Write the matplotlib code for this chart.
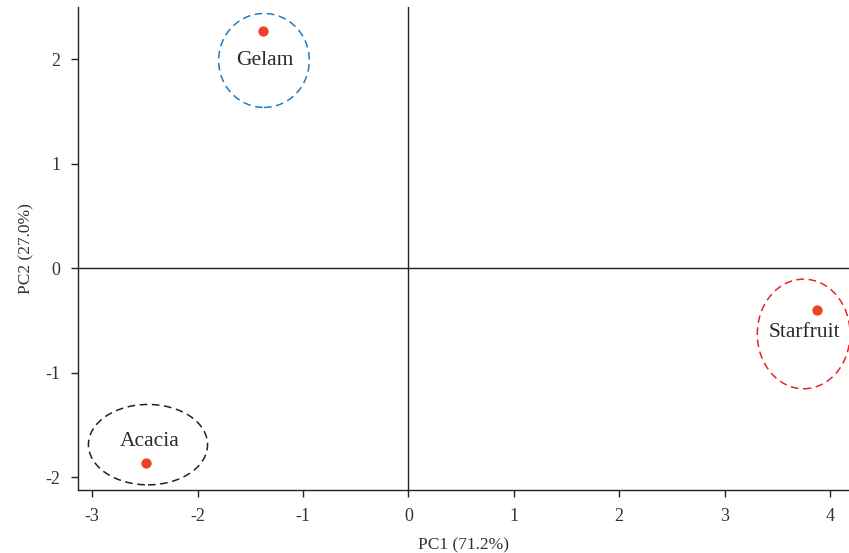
#!/usr/bin/env python3
import matplotlib
matplotlib.use('Agg')
import matplotlib.pyplot as plt
from matplotlib.patches import Ellipse

plt.rc('font', family=['Liberation Serif', 'DejaVu Serif'], size=12.5)
plt.rc('axes', unicode_minus=False)

# PCA scores
groups = ['Gelam', 'Acacia', 'Starfruit']
pc1 = [-1.38, -2.49, 3.88]
pc2 = [2.27, -1.87, -0.40]

# confidence ellipses: centre, width, height
ell_x = [-1.37, -2.47, 3.75]
ell_y = [1.99, -1.69, -0.63]
ell_w = [0.86, 1.13, 0.88]
ell_h = [0.90, 0.77, 1.05]
ell_col = ['#1f7cc2', '#222222', '#e8252b']

# label positions
lab_x = [-1.36, -2.45, 3.76]
lab_y = [1.99, -1.66, -0.62]

xticks = [-3, -2, -1, 0, 1, 2, 3, 4]
yticks = [-2, -1, 0, 1, 2]

fig = plt.figure(figsize=(8.49, 5.53), dpi=100)
ax = fig.add_axes([0.092, 0.114, 0.908, 0.873])

ax.axhline(0, color='#222222', lw=1.0, zorder=1)
ax.axvline(0, color='#222222', lw=1.0, zorder=1)

for i in range(len(groups)):
  e = Ellipse((ell_x[i], ell_y[i]), ell_w[i], ell_h[i], fill=False,
              edgecolor=ell_col[i], linestyle=(0, (5, 3)), lw=1.1, zorder=2)
  ax.add_patch(e)
  ax.text(lab_x[i], lab_y[i], groups[i], ha='center', va='center',
          color='#2a2a2a', fontsize=15.5, zorder=3)

ax.scatter(pc1, pc2, s=55, color='#ee4224', zorder=4, linewidths=0)

ax.set_xlim(-3.133, 4.18)
ax.set_ylim(-2.124, 2.50)
ax.set_xticks(xticks)
ax.set_yticks(yticks)
ax.spines['top'].set_visible(False)
ax.spines['right'].set_visible(False)
for s in ['left', 'bottom']:
  ax.spines[s].set_color('#222222')
  ax.spines[s].set_linewidth(1.0)
ax.tick_params(direction='out', length=5, width=1, colors='#222222',
               labelcolor='#333333', pad=8, labelsize=13)
ax.set_xlabel('PC1 (71.2%)', color='#333333', labelpad=9)
ax.set_ylabel('PC2 (27.0%)', color='#333333', labelpad=8)

plt.savefig('out.png', dpi=100)
plt.close()
